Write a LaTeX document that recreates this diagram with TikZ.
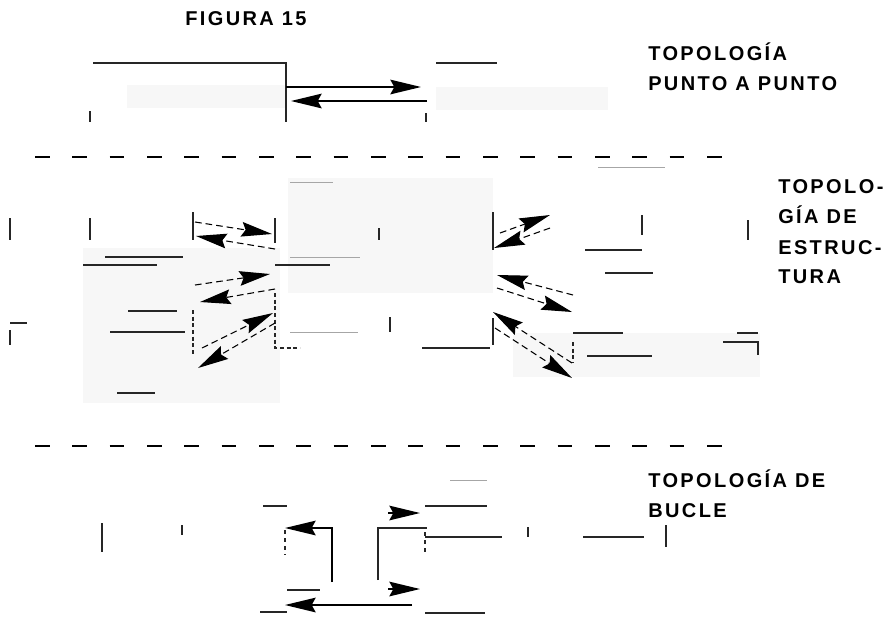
\documentclass[tikz,border=0pt]{standalone}
\usepackage{fontspec}
\usepackage{tikz}
\usetikzlibrary{arrows.meta}
\newfontfamily\labfont[LetterSpace=12]{Liberation Sans}

\begin{document}
\begin{tikzpicture}[x=0.75pt, y=-0.75pt, >={Stealth[length=23pt, width=11pt, inset=3pt]},
		lab/.style={anchor=base west, inner sep=0pt, font=\labfont\bfseries\fontsize{15}{18}\selectfont},
		frag/.style={line width=0.9pt, black!85},
		faint/.style={line width=0.6pt, black!35},
		band/.style={fill=black!3, draw=none},
		sep/.style={line width=1.6pt, dash pattern=on 11pt off 17pt},
		flecha/.style={->, line width=1.1pt},
		flechad/.style={->, line width=0.8pt, dash pattern=on 5pt off 3pt}]
				\useasboundingbox (0,0) rectangle (887,626);

				% Titulos
				\node[lab] (fig) at (185,25) {FIGURA 15};
				\node[lab] (pp1) at (648,60) {TOPOLOGÍA};
				\node[lab] (pp2) at (648,90) {PUNTO A PUNTO};
				\node[lab] (es1) at (778,193) {TOPOLO-};
				\node[lab] (es2) at (778,223) {GÍA DE};
				\node[lab] (es3) at (778,254) {ESTRUC-};
				\node[lab] (es4) at (778,283) {TURA};
				\node[lab] (bu1) at (648,487) {TOPOLOGÍA DE};
				\node[lab] (bu2) at (648,517) {BUCLE};

				% Separadores
				\draw[sep] (35,157) -- (725,157);
				\draw[sep] (35,446) -- (725,446);

				% Punto a punto
				\fill[band] (127,85) rectangle (286,108);
				\fill[band] (436,87) rectangle (608,110);
				\draw[frag] (93,63) -- (286,63) -- (286,122);
				\draw[frag] (90,111) -- (90,122);
				\draw[frag] (436,63) -- (497,63);
				\draw[frag] (426,113) -- (426,122);
				\coordinate (ppa) at (286,87);
				\coordinate (ppb) at (421,87);
				\coordinate (ppc) at (427,101);
				\coordinate (ppd) at (291,101);
				\draw[flecha] (ppa) -- (ppb);
				\draw[flecha] (ppc) -- (ppd);

				% Estructura
				\fill[band] (83,248) rectangle (280,403);
				\fill[band] (288,178) rectangle (493,293);
				\fill[band] (513,333) rectangle (760,377);
				\draw[frag] (10,218) -- (10,240);
				\draw[frag] (90,218) -- (90,240);
				\draw[frag] (193,212) -- (193,240);
				\draw[frag] (275,218) -- (275,243);
				\draw[frag] (105,257) -- (183,257);
				\draw[frag] (83,265) -- (157,265);
				\draw[frag] (128,311) -- (177,311);
				\draw[frag] (110,332) -- (185,332);
				\draw[frag] (117,393) -- (155,393);
				\draw[frag] (10,323) -- (27,323);
				\draw[frag] (10,330) -- (10,345);
				\draw[frag, dash pattern=on 3pt off 2pt] (193,310) -- (193,355);
				\draw[frag, dash pattern=on 3pt off 2pt] (275,293) -- (275,348) -- (300,348);
				\draw[frag] (275,265) -- (330,265);
				\draw[faint] (290,257) -- (360,257);
				\draw[faint] (290,182) -- (333,182);
				\draw[faint] (290,332) -- (358,332);
				\draw[frag] (379,228) -- (379,240);
				\draw[frag] (390,317) -- (390,332);
				\draw[frag] (422,348) -- (490,348);
				\draw[frag] (493,212) -- (493,250);
				\draw[frag] (493,318) -- (493,345);
				\draw[faint] (598,167) -- (665,167);
				\draw[frag] (642,215) -- (642,235);
				\draw[frag] (748,220) -- (748,240);
				\draw[frag] (585,250) -- (642,250);
				\draw[frag] (605,273) -- (653,273);
				\draw[frag] (573,333) -- (623,333);
				\draw[frag] (737,333) -- (758,333);
				\draw[frag] (723,342) -- (758,342) -- (758,355);
				\draw[frag] (587,356) -- (652,356);
				\draw[frag, dash pattern=on 3pt off 2pt] (573,342) -- (573,363);

				\coordinate (ea1) at (195,222);
				\coordinate (ea2) at (272,234);
				\coordinate (eb1) at (275,249);
				\coordinate (eb2) at (196,236);
				\coordinate (ec1) at (195,285);
				\coordinate (ec2) at (270,274);
				\coordinate (ed1) at (275,289);
				\coordinate (ed2) at (200,302);
				\coordinate (ee1) at (202,348);
				\coordinate (ee2) at (273,313);
				\coordinate (ef1) at (275,323);
				\coordinate (ef2) at (198,368);
				\draw[flechad] (ea1) -- (ea2);
				\draw[flechad] (eb1) -- (eb2);
				\draw[flechad] (ec1) -- (ec2);
				\draw[flechad] (ed1) -- (ed2);
				\draw[flechad] (ee1) -- (ee2);
				\draw[flechad] (ef1) -- (ef2);

				\coordinate (ra1) at (500,233);
				\coordinate (ra2) at (550,215);
				\coordinate (rb1) at (550,228);
				\coordinate (rb2) at (494,248);
				\coordinate (rc1) at (573,295);
				\coordinate (rc2) at (497,275);
				\coordinate (rd1) at (497,288);
				\coordinate (rd2) at (572,312);
				\coordinate (re1) at (572,363);
				\coordinate (re2) at (493,312);
				\coordinate (rf1) at (495,328);
				\coordinate (rf2) at (572,378);
				\draw[flechad] (ra1) -- (ra2);
				\draw[flechad] (rb1) -- (rb2);
				\draw[flechad] (rc1) -- (rc2);
				\draw[flechad] (rd1) -- (rd2);
				\draw[flechad] (re1) -- (re2);
				\draw[flechad] (rf1) -- (rf2);

				% Bucle
				\draw[frag] (102,523) -- (102,552);
				\draw[frag] (182,525) -- (182,535);
				\draw[frag] (263,506) -- (287,506);
				\draw[frag, dash pattern=on 3pt off 3pt] (285,530) -- (285,555);
				\draw[frag] (287,590) -- (320,590);
				\draw[frag] (260,612) -- (287,612);
				\draw[frag] (378,580) -- (378,528) -- (427,528);
				\draw[frag, dash pattern=on 3pt off 3pt] (425,532) -- (425,553);
				\draw[frag] (425,506) -- (487,506);
				\draw[frag] (425,537) -- (502,537);
				\draw[frag] (528,527) -- (528,537);
				\draw[frag] (583,537) -- (644,537);
				\draw[frag] (666,525) -- (666,547);
				\draw[frag] (425,613) -- (485,613);
				\draw[faint] (450,480) -- (487,480);

				\coordinate (ba1) at (332,582);
				\coordinate (ba2) at (285,528);
				\coordinate (bb1) at (412,605);
				\coordinate (bb2) at (285,605);
				\coordinate (bc1) at (388,513);
				\coordinate (bc2) at (420,513);
				\coordinate (bd1) at (388,589);
				\coordinate (bd2) at (420,589);
				\draw[flecha] (ba1) |- (ba2);
				\draw[flecha] (bb1) -- (bb2);
				\draw[flecha] (bc1) -- (bc2);
				\draw[flecha] (bd1) -- (bd2);
			\end{tikzpicture}
\end{document}
